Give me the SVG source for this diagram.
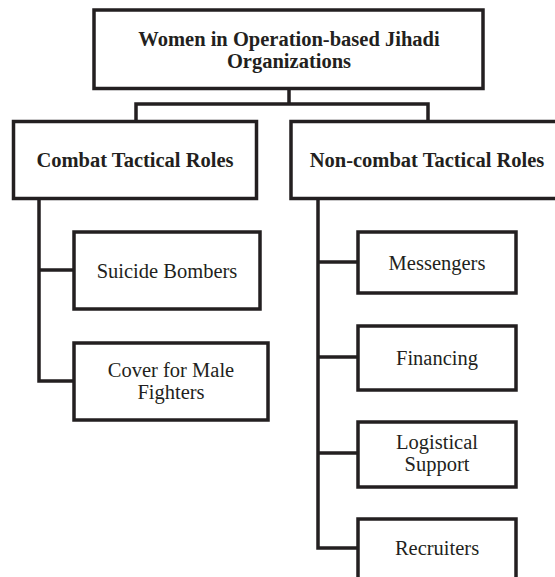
<svg xmlns="http://www.w3.org/2000/svg" width="555" height="577" viewBox="0 0 555 577">
<style>
.box{fill:#fff;stroke:#231f20;stroke-width:3.5}
.ln{fill:none;stroke:#231f20;stroke-width:3.5}
text{font-family:"Liberation Serif","Times New Roman",serif;font-size:20.5px;fill:#231f20;text-anchor:middle}
.b{font-weight:bold}
</style>
<rect width="555" height="577" fill="#fff"/>
<g id="connectors">
<path class="ln" d="M289,88.5 V104 M136,121.5 V104 H428 V121.5"/>
<path class="ln" d="M39,198.5 V381 H74 M39,270 H74"/>
<path class="ln" d="M318,198.5 V548 H358 M318,262 H358 M318,357 H358 M318,453 H358"/>
</g>
<g id="root">
<rect class="box" x="94" y="10" width="389" height="78.5"/>
<text class="b" x="289" y="45.5">Women in Operation-based Jihadi</text>
<text class="b" x="289" y="67.5">Organizations</text>
</g>
<g id="combat">
<rect class="box" x="13.5" y="121.5" width="243" height="77"/>
<text class="b" x="135" y="167">Combat Tactical Roles</text>
</g>
<g id="noncombat">
<rect class="box" x="291" y="121.5" width="272" height="77"/>
<text class="b" x="427" y="167">Non-combat Tactical Roles</text>
</g>
<g id="suicide">
<rect class="box" x="74" y="232" width="186" height="77"/>
<text x="167" y="277.5">Suicide Bombers</text>
</g>
<g id="cover">
<rect class="box" x="74" y="343" width="194" height="77"/>
<text x="171" y="377">Cover for Male</text>
<text x="171" y="399">Fighters</text>
</g>
<g id="messengers">
<rect class="box" x="358" y="232" width="158" height="61"/>
<text x="437" y="269.5">Messengers</text>
</g>
<g id="financing">
<rect class="box" x="358" y="326" width="158" height="64"/>
<text x="437" y="365">Financing</text>
</g>
<g id="logistical">
<rect class="box" x="358" y="422" width="158" height="65"/>
<text x="437" y="449">Logistical</text>
<text x="437" y="471">Support</text>
</g>
<g id="recruiters">
<rect class="box" x="358" y="519" width="158" height="72"/>
<text x="437" y="555">Recruiters</text>
</g>
</svg>
